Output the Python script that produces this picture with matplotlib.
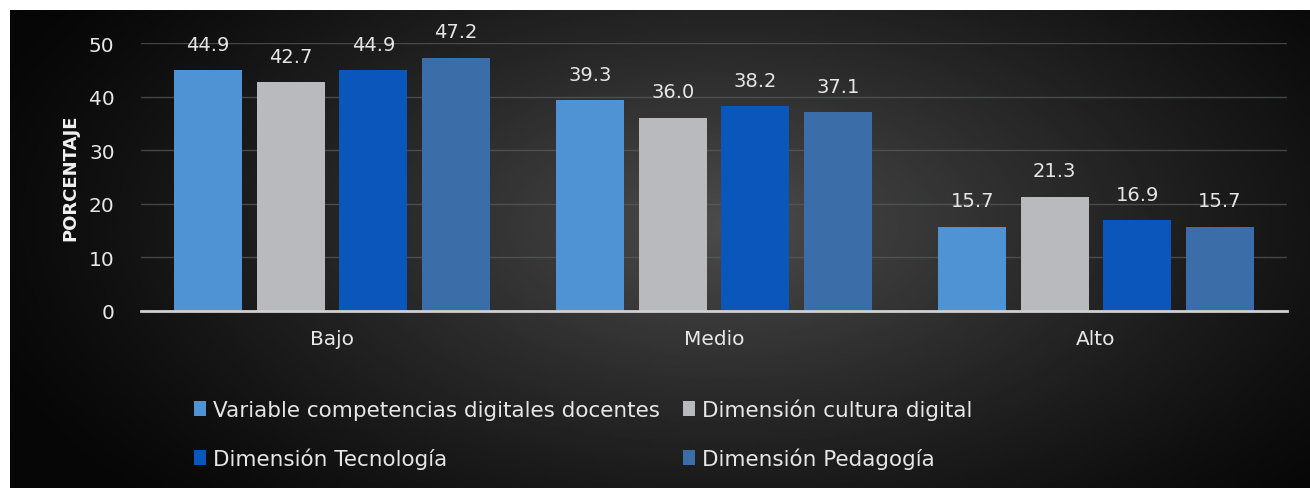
import matplotlib.pyplot as plt
import numpy as np
from matplotlib.patches import Patch

plt.rcParams['font.family'] = ['DejaVu Sans']

# data
categories = ['Bajo', 'Medio', 'Alto']
series_names = ['Variable competencias digitales docentes', 'Dimensión cultura digital',
                'Dimensión Tecnología', 'Dimensión Pedagogía']
variable_cd = [44.9, 39.3, 15.7]
cultura = [42.7, 36.0, 21.3]
tecnologia = [44.9, 38.2, 16.9]
pedagogia = [47.2, 37.1, 15.7]
yticks = [0, 10, 20, 30, 40, 50]

colors = ['#4f93d5', '#b9babd', '#0b56bb', '#3b6ea9']
values = [variable_cd, cultura, tecnologia, pedagogia]

fig = plt.figure(figsize=(13.1, 4.89), dpi=100)
fig.patch.set_facecolor('white')

# dark radial background panel
bg = fig.add_axes([10 / 1310, 0, 1300 / 1310, 478 / 489])
yy, xx = np.mgrid[0:1:200j, 0:1:400j]
r = np.sqrt(((xx - 0.55) / 0.6) ** 2 + ((yy - 0.45) / 0.85) ** 2)
shade = np.clip(1 - r, 0, 1) ** 1.2
bg.imshow(shade, cmap='gray', vmin=-0.1, vmax=3.6, aspect='auto', extent=[0, 1, 0, 1])
bg.set_axis_off()

ax = fig.add_axes([141 / 1310, 177 / 489, 1146 / 1310, 268 / 489])
ax.set_facecolor('none')

x = np.arange(len(categories))
width = 0.178
step = 0.216
handles = []
for i, (vals, col) in enumerate(zip(values, colors)):
    pos = x + (i - 1.5) * step
    ax.bar(pos, vals, width, color=col, zorder=3)
    for px, v in zip(pos, vals):
        ax.text(px, v + 3.1, f'{v:.1f}', ha='center', va='bottom', color='#e6e6e6',
                fontsize=14, zorder=4, clip_on=False)
    handles.append(Patch(facecolor=col, label=series_names[i]))

ax.set_xlim(-0.5, 2.5)
ax.set_ylim(0, 50)
ax.set_yticks(yticks)
ax.set_xticks(x)
ax.set_xticklabels(categories)
ax.grid(axis='y', color='#5a5c5e', linewidth=1, alpha=0.7, zorder=0)
ax.tick_params(axis='both', length=0, colors='#e8e8e8', labelsize=14.5)
ax.tick_params(axis='x', pad=13)
ax.tick_params(axis='y', pad=19)
for s in ['top', 'right', 'left']:
    ax.spines[s].set_visible(False)
ax.spines['bottom'].set_color('#d0d0d0')
ax.spines['bottom'].set_linewidth(2)
ax.spines['bottom'].set_zorder(5)
ax.set_ylabel('PORCENTAJE', color='#f0f0f0', fontsize=13, fontweight='bold', labelpad=7)

leg = fig.legend(handles=[handles[0], handles[2], handles[1], handles[3]], ncol=2,
                 loc='upper left', bbox_to_anchor=(175 / 1310, 1 - 380 / 489),
                 frameon=False, fontsize=15.5, labelcolor='#e6e6e6',
                 handlelength=0.55, handleheight=0.7, handletextpad=0.3,
                 columnspacing=1.1, labelspacing=1.3)

plt.savefig('out.png', dpi=100)
